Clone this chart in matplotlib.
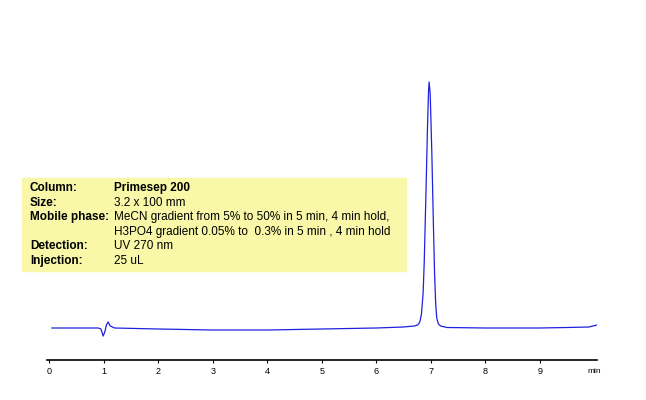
import matplotlib.pyplot as plt

# retention time (min) and detector signal (arbitrary units)
time = [0.05, 0.9, 0.95, 0.99, 1.02, 1.05, 1.08, 1.12, 1.2, 2.0, 3.0, 4.0, 5.0, 6.0, 6.5,
        6.7, 6.76, 6.8, 6.83, 6.86, 6.88, 6.91, 6.94, 6.96, 6.97, 6.99, 7.02, 7.05, 7.07,
        7.09, 7.11, 7.14, 7.18, 7.3, 8.0, 9.0, 9.5, 9.9, 10.05]
signal = [0, 0, -1, -8, -4, 3, 6, 2, 0, -1, -2, -2, -1, 0, 1,
          2, 3, 6, 14, 35, 65, 130, 200, 238, 246, 234, 175, 100, 55,
          25, 10, 4, 2, 0.5, 0, 0, 0.5, 1, 3]
ticks = list(range(10))

info_labels = ["Column:", "Size:", "Mobile phase:", "", "Detection:", "Injection:"]
info_values = ["Primesep 200", "3.2 x 100 mm",
               "MeCN gradient from 5% to 50% in 5 min, 4 min hold,",
               "H3PO4 gradient 0.05% to  0.3% in 5 min , 4 min hold",
               "UV 270 nm", "25 uL"]

plt.rcParams['font.family'] = ['Liberation Sans', 'DejaVu Sans']
fig = plt.figure(figsize=(6.46, 4.0), dpi=100)
ax = fig.add_axes([47 / 646, 40 / 400, 550 / 646, 360 / 400])
ax.plot(time, signal, color='#2020e0', lw=0.9)
ax.set_xlim(-0.04, 10.05)
ax.set_ylim(-32, 328)
for s in ['top', 'right', 'left']:
    ax.spines[s].set_visible(False)
ax.spines['bottom'].set_linewidth(1.2)
ax.set_yticks([])
ax.set_xticks(ticks)
ax.set_xticklabels([str(t) for t in ticks], fontsize=6.5)
ax.tick_params(axis='x', length=2, pad=3)
ax.text(10.0, -40, "min", fontsize=6, ha='center', va='top')

# info box
fig.patches.append(plt.Rectangle((22 / 646, 1 - 271 / 400), 384 / 646, 93 / 400,
                                 transform=fig.transFigure, color='#f8f8a8', zorder=0))
for i, (lab, val) in enumerate(zip(info_labels, info_values)):
    y = 1 - (188 + i * 14.6) / 400
    fig.text(30 / 646, y, lab, fontsize=8.5, fontweight='bold', va='center')
    fig.text(114 / 646, y, val, fontsize=8.5, va='center',
             fontweight='bold' if i == 0 else 'normal')

fig.savefig('out.png', dpi=100)
